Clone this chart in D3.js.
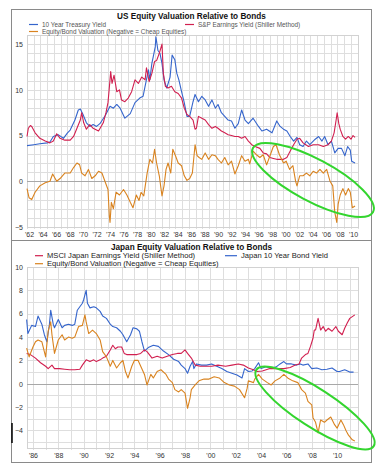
<!DOCTYPE html>
<html lang="en">
<head>
<meta charset="UTF-8">
<title>Equity valuation relative to bonds</title>
<script src="https://cdn.jsdelivr.net/npm/d3@7"></script>
<style>
    body{margin:0;background:#fff;}
    svg{display:block;font-family:"Liberation Sans",Arial,sans-serif;}
</style>
</head>
<body>
<script type="text/javascript">

// ---- US panel data: [year, percent] ----
let usTreasury = [[1962.0,3.9],[1963.0,4.0],[1963.9,4.1],[1965.0,4.2],[1965.4,4.3],[1965.9,4.9],[1966.6,5.1],[1967.4,4.7],[1968.0,5.3],[1968.4,5.6],[1969.1,6.7],[1969.6,7.8],[1969.9,7.9],[1970.3,7.3],[1970.8,6.4],[1971.3,6.0],[1971.8,6.2],[1972.3,6.0],[1972.8,6.3],[1973.6,7.2],[1974.3,8.2],[1974.8,8.0],[1975.3,8.4],[1975.8,8.0],[1976.5,6.9],[1977.3,7.4],[1978.0,8.6],[1978.7,9.1],[1979.2,9.3],[1979.5,10.4],[1980.0,12.2],[1980.2,11.1],[1980.5,12.9],[1980.7,13.6],[1981.0,14.7],[1981.1,15.8],[1981.4,14.3],[1981.7,14.0],[1982.0,12.9],[1982.3,11.1],[1982.7,10.2],[1983.2,11.4],[1983.5,13.8],[1983.9,13.3],[1984.2,11.8],[1984.5,11.1],[1984.9,9.8],[1985.3,8.6],[1985.7,7.1],[1986.1,7.1],[1986.6,8.7],[1986.9,9.5],[1987.4,8.7],[1987.9,9.3],[1988.4,8.9],[1988.9,8.2],[1989.4,8.9],[1989.9,8.0],[1990.3,8.4],[1990.8,7.5],[1991.3,7.1],[1991.8,6.7],[1992.3,6.6],[1992.8,5.8],[1993.3,6.3],[1993.8,7.8],[1994.3,6.7],[1994.8,6.3],[1995.5,6.9],[1996.3,6.0],[1996.8,5.5],[1997.5,5.7],[1998.3,5.3],[1999.0,6.6],[1999.5,6.0],[2000.0,5.7],[2000.5,5.5],[2001.0,4.9],[2001.5,4.4],[2002.0,4.8],[2002.4,4.0],[2002.9,3.8],[2003.4,4.4],[2003.9,4.0],[2004.7,4.6],[2005.2,4.9],[2005.7,4.4],[2006.1,4.9],[2006.6,4.0],[2007.1,4.4],[2007.6,3.1],[2008.1,3.6],[2008.6,3.6],[2009.1,2.8],[2009.5,3.8],[2009.9,3.4],[2010.1,2.2],[2010.6,2.0]];

let usEarnings = [[1962.0,4.9],[1962.2,5.8],[1962.5,6.1],[1962.7,6.0],[1963.2,5.3],[1963.9,4.7],[1964.7,4.4],[1965.4,4.2],[1965.9,4.4],[1966.4,5.2],[1966.9,4.7],[1967.6,4.5],[1968.4,4.5],[1968.9,4.9],[1969.4,5.8],[1969.9,6.7],[1970.1,7.5],[1970.4,6.4],[1970.8,5.7],[1971.3,6.2],[1971.8,5.8],[1972.6,5.5],[1973.3,6.4],[1973.7,7.5],[1974.0,8.6],[1974.3,11.1],[1974.4,12.0],[1974.6,10.7],[1974.9,11.6],[1975.3,9.8],[1975.7,10.0],[1976.0,8.9],[1976.5,8.7],[1977.0,9.1],[1977.5,9.8],[1978.0,11.1],[1978.5,10.7],[1979.0,11.4],[1979.5,11.1],[1979.7,12.4],[1980.1,10.9],[1980.5,11.8],[1980.9,13.1],[1981.2,13.2],[1981.6,14.0],[1982.0,15.0],[1982.2,11.8],[1982.5,10.4],[1982.9,10.2],[1983.4,10.4],[1983.9,9.8],[1984.4,9.6],[1984.9,9.1],[1985.3,8.0],[1985.7,7.3],[1986.1,7.1],[1986.6,6.7],[1986.9,5.7],[1987.1,5.8],[1987.4,7.1],[1987.9,6.9],[1988.4,6.7],[1988.9,6.2],[1989.4,5.8],[1989.9,6.0],[1990.3,5.8],[1990.8,5.5],[1991.3,5.3],[1991.8,5.1],[1992.3,5.0],[1992.8,4.9],[1993.3,4.9],[1993.8,4.7],[1994.3,4.9],[1994.8,4.4],[1995.3,4.0],[1995.8,3.8],[1996.5,3.6],[1997.0,3.1],[1997.5,3.0],[1998.0,2.6],[1998.5,2.5],[1999.0,2.4],[2000.0,2.4],[2000.5,2.6],[2001.0,3.3],[2001.5,4.0],[2002.0,4.6],[2002.4,4.7],[2002.9,4.2],[2003.7,3.8],[2004.4,4.0],[2005.2,4.0],[2005.9,3.8],[2006.6,4.0],[2007.1,4.4],[2007.5,5.3],[2007.8,6.7],[2007.95,7.5],[2008.2,6.3],[2008.4,5.7],[2008.8,4.9],[2009.2,4.6],[2009.6,4.9],[2010.0,4.6],[2010.3,5.0],[2010.6,4.8]];

let usValuation = [[1962.0,-0.8],[1962.3,-1.8],[1962.7,-2.0],[1963.2,-1.2],[1963.9,-0.5],[1964.7,-0.15],[1965.4,0.0],[1965.8,0.8],[1966.4,0.0],[1966.9,0.3],[1967.6,0.9],[1968.4,0.9],[1968.9,1.5],[1969.4,2.0],[1969.8,1.8],[1970.1,0.9],[1970.6,0.6],[1971.1,1.3],[1971.6,0.3],[1972.1,0.6],[1972.6,1.1],[1973.1,0.9],[1973.6,-0.1],[1974.0,-0.9],[1974.2,-3.8],[1974.3,-4.5],[1974.5,-2.3],[1974.8,-3.0],[1975.2,-1.2],[1975.7,-1.5],[1976.3,-0.9],[1976.8,-1.5],[1977.3,-2.3],[1977.7,-2.9],[1978.2,-1.5],[1978.6,-2.1],[1978.9,-1.2],[1979.3,-1.6],[1979.8,0.9],[1980.2,2.4],[1980.6,2.0],[1980.9,3.5],[1981.2,2.0],[1981.6,0.6],[1982.0,-1.6],[1982.3,-0.5],[1982.6,1.3],[1982.9,2.0],[1983.3,0.9],[1983.6,3.5],[1984.0,2.8],[1984.4,2.0],[1984.9,1.7],[1985.3,0.6],[1985.7,0.1],[1986.1,0.3],[1986.5,0.9],[1986.9,4.0],[1987.2,2.8],[1987.5,2.6],[1987.9,2.4],[1988.4,3.1],[1988.9,2.4],[1989.4,2.9],[1989.9,2.8],[1990.3,2.4],[1990.8,2.0],[1991.3,2.6],[1991.8,1.8],[1992.3,2.2],[1992.8,0.8],[1993.3,1.7],[1993.8,2.8],[1994.3,2.2],[1994.8,2.4],[1995.0,1.9],[1995.5,3.3],[1996.0,2.9],[1996.5,2.6],[1997.0,2.9],[1997.5,1.8],[1998.0,2.8],[1998.5,3.8],[1998.9,4.0],[1999.4,2.9],[2000.0,2.0],[2000.4,2.2],[2000.9,1.3],[2001.4,1.7],[2001.8,0.0],[2002.0,-0.5],[2002.4,0.6],[2002.9,0.6],[2003.4,0.9],[2003.9,0.6],[2004.4,1.1],[2004.9,0.9],[2005.4,1.3],[2005.9,0.9],[2006.4,1.3],[2006.9,0.0],[2007.3,-0.5],[2007.6,-3.4],[2007.9,-4.5],[2008.1,-2.5],[2008.4,-1.5],[2008.8,-0.8],[2009.2,-1.5],[2009.6,-0.8],[2009.9,-1.2],[2010.2,-2.9],[2010.6,-2.7]];

// ---- Japan panel data: [year, percent] ----
let jpBond = [[1985.5,5.5],[1985.6,4.3],[1985.9,5.0],[1986.2,4.9],[1986.4,5.8],[1986.7,5.1],[1986.9,4.2],[1987.1,3.6],[1987.3,5.1],[1987.4,6.3],[1987.6,5.1],[1987.7,4.8],[1988.0,5.5],[1988.3,4.8],[1988.5,5.0],[1988.8,5.1],[1989.1,5.0],[1989.3,5.1],[1989.5,6.3],[1989.7,6.6],[1989.9,6.9],[1990.0,7.2],[1990.2,8.0],[1990.3,6.9],[1990.5,6.5],[1990.8,6.6],[1991.0,6.5],[1991.3,6.2],[1991.5,5.8],[1991.8,5.6],[1992.1,5.1],[1992.3,4.9],[1992.6,4.8],[1992.9,4.5],[1993.1,4.2],[1993.4,3.6],[1993.7,4.2],[1993.9,4.8],[1994.2,4.7],[1994.4,4.5],[1994.6,3.6],[1994.8,2.8],[1995.1,3.1],[1995.5,3.3],[1995.9,3.2],[1996.3,2.8],[1996.7,2.5],[1997.1,2.1],[1997.5,1.9],[1997.7,1.6],[1998.0,1.3],[1998.2,0.9],[1998.4,1.5],[1998.6,1.9],[1998.7,1.3],[1998.9,1.7],[1999.3,1.6],[1999.7,1.6],[2000.1,1.7],[2000.5,1.5],[2000.9,1.3],[2001.3,1.05],[2001.7,0.9],[2002.1,0.75],[2002.5,0.5],[2002.7,1.3],[2003.0,1.05],[2003.3,1.1],[2003.5,1.3],[2003.8,1.8],[2004.0,1.3],[2004.4,1.45],[2004.8,1.3],[2005.2,1.45],[2005.5,1.7],[2005.8,1.9],[2006.0,1.7],[2006.4,1.7],[2006.8,1.6],[2007.1,1.7],[2007.3,1.6],[2007.7,1.7],[2008.0,1.3],[2008.4,1.35],[2008.8,1.2],[2009.2,1.25],[2009.6,1.35],[2010.0,1.05],[2010.2,1.05],[2010.6,1.2],[2011.0,1.0],[2011.3,1.0]];

let jpEarnings = [[1985.5,2.6],[1985.8,2.5],[1986.2,2.2],[1986.6,1.8],[1987.0,1.5],[1987.2,1.3],[1987.5,1.6],[1987.7,1.3],[1988.1,1.3],[1988.5,1.25],[1988.9,1.2],[1989.3,1.2],[1989.7,1.25],[1989.9,1.6],[1990.2,2.05],[1990.5,1.9],[1990.8,2.05],[1991.0,1.9],[1991.3,2.05],[1991.5,2.2],[1991.8,2.35],[1992.1,2.9],[1992.3,3.3],[1992.5,3.0],[1992.7,3.15],[1993.0,3.15],[1993.2,2.6],[1993.4,2.5],[1993.8,2.5],[1994.2,2.5],[1994.5,2.6],[1994.8,2.9],[1995.0,2.75],[1995.4,2.2],[1995.8,2.35],[1996.2,2.2],[1996.6,2.35],[1997.0,2.5],[1997.4,2.6],[1997.7,2.6],[1998.0,2.9],[1998.2,2.6],[1998.5,2.2],[1998.8,1.6],[1999.2,1.5],[1999.6,1.5],[2000.1,1.5],[2000.6,1.6],[2001.2,1.5],[2001.7,1.6],[2002.2,1.7],[2002.6,1.6],[2003.0,1.35],[2003.4,1.2],[2003.7,1.05],[2004.1,1.1],[2004.7,1.3],[2005.2,1.3],[2005.8,1.3],[2006.3,1.4],[2006.7,1.6],[2007.0,1.7],[2007.2,2.2],[2007.5,2.5],[2007.7,2.6],[2007.9,3.2],[2008.1,3.9],[2008.2,4.6],[2008.3,4.6],[2008.5,5.6],[2008.7,4.6],[2008.9,4.9],[2009.1,4.5],[2009.3,4.75],[2009.6,4.5],[2009.9,4.9],[2010.1,4.5],[2010.4,4.2],[2010.6,4.75],[2010.8,5.2],[2011.0,5.6],[2011.2,5.75],[2011.4,5.9]];

let jpValuation = [[1985.5,3.05],[1985.7,2.3],[1986.0,3.15],[1986.2,3.6],[1986.4,3.75],[1986.7,3.6],[1987.0,2.3],[1987.2,4.5],[1987.4,5.3],[1987.5,4.2],[1987.7,2.6],[1988.0,3.75],[1988.3,4.2],[1988.5,3.75],[1988.8,4.0],[1989.1,3.9],[1989.3,4.0],[1989.6,4.9],[1989.9,5.0],[1990.1,5.9],[1990.2,5.3],[1990.4,4.3],[1990.7,4.6],[1991.0,4.3],[1991.3,3.75],[1991.5,2.75],[1991.8,2.3],[1992.1,1.5],[1992.3,2.0],[1992.6,1.35],[1992.9,1.8],[1993.1,2.0],[1993.3,1.05],[1993.5,0.5],[1993.8,1.5],[1994.0,2.0],[1994.3,2.0],[1994.8,0.8],[1995.0,-0.1],[1995.3,0.8],[1995.5,0.5],[1995.8,1.05],[1996.1,1.2],[1996.5,0.8],[1996.7,0.4],[1997.0,0.1],[1997.2,-0.5],[1997.5,-0.7],[1997.7,-0.5],[1998.0,-0.8],[1998.2,-2.1],[1998.4,-1.2],[1998.5,-0.5],[1998.8,-0.1],[1999.1,0.25],[1999.5,0.4],[1999.9,0.4],[2000.3,0.6],[2000.7,0.5],[2001.1,0.1],[2001.5,-0.1],[2001.9,-0.2],[2002.3,-0.5],[2002.7,-1.2],[2002.9,-0.4],[2003.0,0.25],[2003.4,0.1],[2003.5,0.4],[2003.8,0.8],[2004.1,0.4],[2004.5,0.1],[2004.8,-0.1],[2005.1,0.25],[2005.5,0.5],[2005.8,0.8],[2006.1,0.5],[2006.5,0.25],[2006.9,0.1],[2007.2,-0.5],[2007.5,-0.8],[2007.7,-1.5],[2008.0,-1.8],[2008.1,-2.9],[2008.3,-3.3],[2008.5,-4.2],[2008.7,-3.1],[2009.0,-3.3],[2009.2,-3.1],[2009.5,-2.85],[2009.8,-3.5],[2010.0,-3.8],[2010.3,-3.1],[2010.5,-3.5],[2010.7,-4.0],[2010.9,-4.4],[2011.2,-4.8],[2011.4,-4.9]];

let usYearTicks = d3.range(1962, 2011, 2);
let jpYearTicks = d3.range(1986, 2011, 2);
let usValueTicks = [15, 10, 5, 0, -5];
let jpValueTicks = [10, 8, 6, 4, 2, 0, -2, -4];

let blue = "#3565cc";
let red = "#d11f4f";
let orange = "#d9831f";
let green = "#33d52e";

let svg = d3.select("body")
    .append("svg")
    .attr("width", 385)
    .attr("height", 475);

svg.append("rect").attr("width", 385).attr("height", 475).attr("fill", "#fff");

function drawPanel(p) {
    let g = svg.append("g");

    // panel frame
    g.append("rect")
        .attr("x", p.box[0] + 0.5).attr("y", p.box[1] + 0.5)
        .attr("width", p.box[2]).attr("height", p.box[3])
        .attr("fill", "none").attr("stroke", "#8a8a8a");

    let x = d3.scaleLinear().domain(p.xDomain).range([27, 358]);
    let y = d3.scaleLinear().domain(p.yDomain).range([p.plotBottom, p.plotTop]);

    // grid: one line per year and per unit
    let gridYears = d3.range(Math.ceil(p.xDomain[0]), p.xDomain[1] + 0.001, 1);
    let gridVals = d3.range(Math.ceil(p.yDomain[0]), p.yDomain[1] + 0.001, 1);
    g.append("g").selectAll("line").data(gridYears).join("line")
        .attr("x1", d => Math.round(x(d)) + 0.5).attr("x2", d => Math.round(x(d)) + 0.5)
        .attr("y1", p.plotTop).attr("y2", p.plotBottom + 2)
        .attr("stroke", "#dedede");
    g.append("g").selectAll("line").data(gridVals).join("line")
        .attr("x1", 27).attr("x2", 358)
        .attr("y1", d => Math.round(y(d)) + 0.5).attr("y2", d => Math.round(y(d)) + 0.5)
        .attr("stroke", "#dedede");
    g.append("rect")
        .attr("x", 27.5).attr("y", p.plotTop + 0.5)
        .attr("width", 331).attr("height", p.plotBottom - p.plotTop)
        .attr("fill", "none").attr("stroke", "#d2d2d2");
    g.append("line")
        .attr("x1", 27).attr("x2", 358)
        .attr("y1", Math.round(y(0)) + 0.5).attr("y2", Math.round(y(0)) + 0.5)
        .attr("stroke", "#a8a8a8");

    // axes labels
    let yAxis = d3.axisLeft(y).tickValues(p.yTicks).tickSize(0).tickPadding(4);
    let yg = g.append("g").attr("transform", "translate(27,0)").call(yAxis);
    let xAxis = d3.axisBottom(x).tickValues(p.xTicks).tickSize(0).tickPadding(5)
        .tickFormat(d => "'" + String(d).slice(2));
    let xg = g.append("g").attr("transform", `translate(${p.xLabelShift},${p.plotBottom})`).call(xAxis);
    [yg, xg].forEach(a => {
        a.select(".domain").remove();
        a.selectAll("text").attr("font-size", 7).attr("fill", "#333")
            .attr("font-family", "'Liberation Sans',Arial,sans-serif");
    });

    // series
    let line = d3.line().x(d => x(d[0])).y(d => y(d[1]));
    p.series.forEach(s => {
        g.append("path")
            .datum(s.data)
            .attr("fill", "none")
            .attr("stroke", s.color)
            .attr("stroke-width", 1.1)
            .attr("stroke-linejoin", "round")
            .attr("d", line);
    });

    // title
    g.append("text")
        .attr("x", 191.5).attr("y", p.titleY)
        .attr("text-anchor", "middle")
        .attr("font-size", 8.2).attr("font-weight", "bold").attr("fill", "#111")
        .text(p.title);

    // legend
    p.legend.forEach(l => {
        g.append("line")
            .attr("x1", l.x).attr("x2", l.x + l.len)
            .attr("y1", l.y).attr("y2", l.y)
            .attr("stroke", l.color).attr("stroke-width", 1.2);
        g.append("text")
            .attr("x", l.x + l.len + 4).attr("y", l.y + p.legendSize * 0.36)
            .attr("font-size", p.legendSize).attr("fill", p.legendColor)
            .text(l.label);
    });

    // highlight ellipse
    g.append("ellipse")
        .attr("cx", 0).attr("cy", 0)
        .attr("rx", p.ellipse.rx).attr("ry", p.ellipse.ry)
        .attr("transform", `translate(${p.ellipse.cx},${p.ellipse.cy}) rotate(${p.ellipse.angle})`)
        .attr("fill", "none").attr("stroke", green).attr("stroke-width", 2);
}

drawPanel({
    box: [11, 9, 360, 231],
    xDomain: [1962, 2011.04],
    yDomain: [-5, 16],
    plotTop: 35, plotBottom: 227,
    xTicks: usYearTicks, yTicks: usValueTicks, xLabelShift: 2,
    series: [
        {data: usTreasury, color: blue},
        {data: usEarnings, color: red},
        {data: usValuation, color: orange}
    ],
    title: "US Equity Valuation Relative to Bonds", titleY: 18.6,
    legendSize: 6.4, legendColor: "#555",
    legend: [
        {x: 29, y: 24.5, len: 9, color: blue, label: "10 Year Treasury Yield"},
        {x: 29, y: 31.5, len: 9, color: orange, label: "Equity/Bond Valuation (Negative = Cheap Equities)"},
        {x: 185, y: 24.5, len: 9, color: red, label: "S&P Earnings Yield (Shiller Method)"}
    ],
    ellipse: {cx: 313, cy: 180, rx: 68, ry: 21, angle: 28}
});

drawPanel({
    box: [11, 240, 360, 222],
    xDomain: [1985.53, 2011.65],
    yDomain: [-5.5, 10],
    plotTop: 267, plotBottom: 448,
    xTicks: jpYearTicks, yTicks: jpValueTicks, xLabelShift: 0,
    series: [
        {data: jpBond, color: blue},
        {data: jpEarnings, color: red},
        {data: jpValuation, color: orange}
    ],
    title: "Japan Equity Valuation Relative to Bonds", titleY: 249.6,
    legendSize: 7.6, legendColor: "#222",
    legend: [
        {x: 35, y: 255.7, len: 8, color: red, label: "MSCI Japan Earnings Yield (Shiller Method)"},
        {x: 35, y: 263.7, len: 8, color: orange, label: "Equity/Bond Valuation (Negative = Cheap Equities)"},
        {x: 225, y: 255.7, len: 12, color: blue, label: "Japan 10 Year Bond Yield"}
    ],
    ellipse: {cx: 315, cy: 408, rx: 70, ry: 19, angle: 33}
});

// stray dark mark at the left edge of the lower panel
svg.append("line")
    .attr("x1", 12).attr("x2", 12).attr("y1", 423).attr("y2", 443)
    .attr("stroke", "#000").attr("stroke-width", 1.5);

</script>
</body>
</html>
